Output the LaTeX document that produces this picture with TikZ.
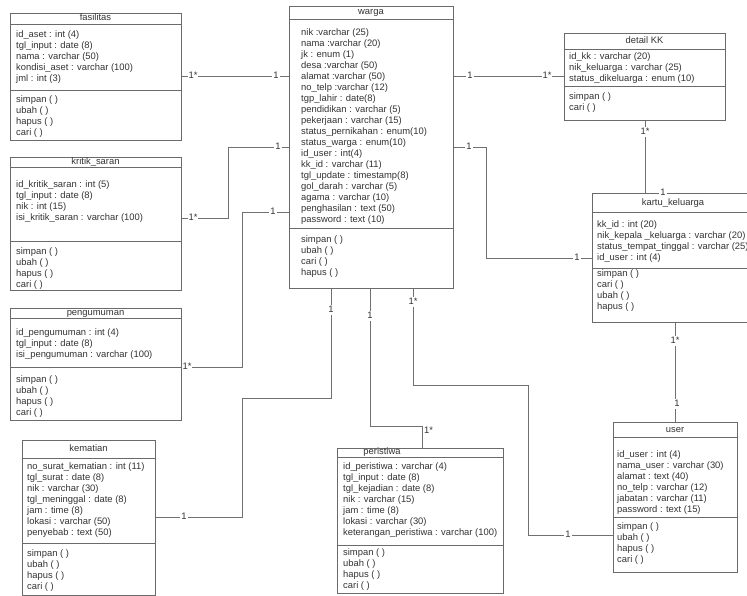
\documentclass[tikz,border=0pt]{standalone}
\usepackage{fontspec}
\setmainfont{Liberation Sans}
\definecolor{txtc}{HTML}{333333}
\definecolor{boxc}{HTML}{6A6A6A}
\definecolor{linec}{HTML}{707070}
\tikzset{
 cls/.style={draw=boxc, line width=0.8pt, inner sep=0, anchor=north west, fill=white},
 txt/.style={font=\fontsize{9.4}{11}\selectfont, text=txtc, inner sep=0, anchor=west, text height=7pt, text depth=2pt},
 ttl/.style={txt, anchor=center},
 sepline/.style={draw=boxc, line width=0.8pt},
 conn/.style={draw=linec, line width=0.8pt},
 lbl/.style={txt, anchor=center, fill=white, inner xsep=1pt, inner ysep=0.5pt}
}
% name, x, y, w, h, title line y, divider y
\newcommand\umlbox[7]{%
  \node[cls, minimum width=#4pt, minimum height=#5pt] (#1) at (#2,#3) {};
  \draw[sepline] (#1.west |- 0,#6) -- (#1.east |- 0,#6);
  \draw[sepline] (#1.west |- 0,#7) -- (#1.east |- 0,#7);
}
% prefix, x, y0, list
\newcommand\umllines[4]{%
  \foreach \itm [count=\i from 0] in {#4} {\node[txt, name=#1\i] at (#2, #3+11*\i) {\itm};}}
\begin{document}
\begin{tikzpicture}[x=1pt,y=-1pt]
\clip (0,0) rectangle (747,596);
\fill[white] (0,0) rectangle (747,596);

% ---------- connectors ----------
\umlbox{fas}{10}{13}{171}{127}{24}{90}
\umlbox{krit}{10}{157}{171}{133}{167}{241}
\umlbox{peng}{10}{308}{171}{112}{318}{367}
\umlbox{kem}{22}{440}{133}{155}{458}{543}
\umlbox{warga}{289}{6}{164}{282}{19}{228}
\umlbox{dkk}{564}{33}{161}{87}{49}{86}
\umlbox{kk}{592}{193}{162}{129}{212}{268}
\umlbox{user}{613}{422}{124}{150}{437}{517}
\umlbox{per}{337}{448}{166}{145}{457}{545}

\draw[conn] (fas.east |- 0,76) -- (warga.west |- 0,76);
\draw[conn] (krit.east |- 0,218) -| (228,147) -- (warga.west |- 0,147);
\draw[conn] (peng.east |- 0,367) -| (242,212) -- (warga.west |- 0,212);
\draw[conn] (kem.east |- 0,517) -| (242,398) -| (warga.south -| 331,0);
\draw[conn] (warga.south -| 370,0) |- (422,426) -- (per.north -| 422,0);
\draw[conn] (warga.south -| 413,0) |- (528,385) |- (user.west |- 0,535);
\draw[conn] (warga.east |- 0,76) -- (dkk.west |- 0,76);
\draw[conn] (dkk.south -| 645,0) -- (kk.north -| 645,0);
\draw[conn] (warga.east |- 0,147) -| (486,258) -- (kk.west |- 0,258);
\draw[conn] (kk.south -| 675,0) -- (user.north -| 675,0);

% ---------- multiplicities ----------
\node[lbl] (m1a) at (193,76) {1*};
\node[lbl] (m1b) at (276,76) {1};
\node[lbl] (m2a) at (193,218) {1*};
\node[lbl] (m2b) at (278,147) {1};
\node[lbl] (m3a) at (187,367) {1*};
\node[lbl] (m3b) at (273,212) {1};
\node[lbl] (m4a) at (184,517) {1};
\node[lbl] (m4b) at (331,310) {1};
\node[lbl] (m5a) at (370,316) {1};
\node[txt] (m5b) at (424,431) {1*};
\node[lbl] (m6a) at (413,302) {1*};
\node[lbl] (m6b) at (568,535) {1};
\node[lbl] (m7a) at (470,76) {1};
\node[lbl] (m7b) at (547,76) {1*};
\node[lbl] (m8a) at (645,132) {1*};
\node[lbl] (m8b) at (663,193) {1};
\node[lbl] (m9a) at (469,147) {1};
\node[lbl] (m9b) at (577,258) {1};
\node[lbl] (m10a) at (675,341) {1*};
\node[lbl] (m10b) at (677,404) {1};

% ---------- fasilitas ----------
\node[ttl] (fast) at (95.5,18.5) {fasilitas};
\umllines{fasa}{16}{35}{id\_aset : int (4),tgl\_input : date (8),nama : varchar (50),kondisi\_aset : varchar (100),jml : int (3)}
\umllines{fasm}{16}{100}{simpan ( ),ubah ( ),hapus ( ),cari ( )}

% ---------- kritik_saran ----------
\node[ttl] (kritt) at (95.5,162) {kritik\_saran};
\umllines{krita}{16}{185}{id\_kritik\_saran : int (5),tgl\_input : date (8),nik : int (15),isi\_kritik\_saran : varchar (100)}
\umllines{kritm}{16}{252}{simpan ( ),ubah ( ),hapus ( ),cari ( )}

% ---------- pengumuman ----------
\node[ttl] (pengt) at (95.5,313) {pengumuman};
\umllines{penga}{16}{333}{id\_pengumuman : int (4),tgl\_input : date (8),isi\_pengumuman : varchar (100)}
\umllines{pengm}{16}{380}{simpan ( ),ubah ( ),hapus ( ),cari ( )}

% ---------- kematian ----------
\node[ttl] (kemt) at (88.5,449) {kematian};
\umllines{kema}{27}{467}{no\_surat\_kematian : int (11),tgl\_surat : date (8),nik : varchar (30),tgl\_meninggal : date (8),jam : time (8),lokasi : varchar (50),penyebab : text (50)}
\umllines{kemm}{27}{554}{simpan ( ),ubah ( ),hapus ( ),cari ( )}

% ---------- warga ----------
\node[ttl] (wargat) at (371,12.5) {warga};
\umllines{wargaa}{301}{33}{nik :varchar (25),nama :varchar (20),jk : enum (1),desa :varchar (50),alamat :varchar (50),no\_telp :varchar (12),tgp\_lahir : date(8),pendidikan : varchar (5),pekerjaan : varchar (15),status\_pernikahan : enum(10),status\_warga : enum(10),id\_user : int(4),kk\_id : varchar (11),tgl\_update : timestamp(8),gol\_darah : varchar (5),agama : varchar (10),penghasilan : text (50),password : text (10)}
\umllines{wargam}{301}{240}{simpan ( ),ubah ( ),cari ( ),hapus ( )}

% ---------- detail KK ----------
\node[ttl] (dkkt) at (644.5,41) {detail KK};
\umllines{dkka}{569}{57}{id\_kk : varchar (20),nik\_keluarga : varchar (25),status\_dikeluarga : enum (10)}
\umllines{dkkm}{569}{97}{simpan ( ),cari ( )}

% ---------- kartu_keluarga ----------
\node[ttl] (kkt) at (673,203) {kartu\_keluarga};
\umllines{kka}{597}{225}{kk\_id : int (20),nik\_kepala \_keluarga : varchar (20),status\_tempat\_tinggal : varchar (25),id\_user : int (4)}
\umllines{kkm}{597}{274}{simpan ( ),cari ( ),ubah ( ),hapus ( )}

% ---------- user ----------
\node[ttl] (usert) at (675,430) {user};
\umllines{usera}{617}{455}{id\_user : int (4),nama\_user : varchar (30),alamat : text (40),no\_telp : varchar (12),jabatan : varchar (11),password : text (15)}
\umllines{userm}{617}{527}{simpan ( ),ubah ( ),hapus ( ),cari ( )}

% ---------- peristiwa ----------
\node[ttl] (pert) at (382,452) {peristiwa};
\umllines{pera}{343}{467}{id\_peristiwa : varchar (4),tgl\_input : date (8),tgl\_kejadian : date (8),nik : varchar (15),jam : time (8),lokasi : varchar (30),keterangan\_peristiwa : varchar (100)}
\umllines{perm}{343}{553}{simpan ( ),ubah ( ),hapus ( ),cari ( )}
\end{tikzpicture}
\end{document}
